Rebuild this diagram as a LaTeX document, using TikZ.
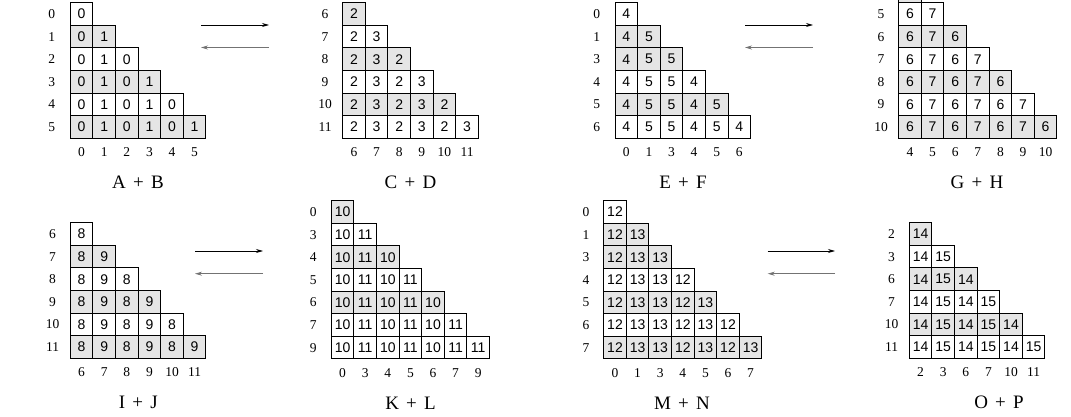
\documentclass[tikz,border=0pt]{standalone}
\usepackage{fontspec}
\setmainfont{Liberation Serif}
\newfontfamily\cellfont{Liberation Sans}
\usetikzlibrary{arrows.meta}
\definecolor{shade}{gray}{0.9}
\definecolor{backarrow}{gray}{0.45}
\def\csz{22.6}
\newcommand\pp[2]{#1\hspace{0.38em}+\hspace{0.38em}#2}
\tikzset{
  cell/.style={draw=black, line width=0.9pt, minimum width=\csz pt, minimum height=\csz pt,
    inner sep=0pt, font=\cellfont\fontsize{14}{14}\selectfont},
  rlab/.style={inner sep=0pt, font=\fontsize{13.5}{13.5}\selectfont},
  clab/.style={inner sep=0pt, font=\fontsize{13.5}{13.5}\selectfont},
  ttl/.style={inner sep=0pt, font=\fontsize{19}{19}\selectfont},
  fwd/.style={line width=0.8pt, draw=black, -{Stealth[length=7pt,width=4pt]}},
  bwd/.style={line width=0.8pt, draw=backarrow, -{Stealth[length=7pt,width=4pt]}}
}
% #1 name, #2 x0, #3 y0, #4 n rows, #5 rows (label/fill), #6 cols (label/value), #7 row-label x, #8 title, #9 title x
\newcommand\tgrid[9]{%
  \foreach \rl/\sh [count=\i from 0] in {#5}{%
    \node[rlab] (#1-rl\i) at (#7pt, {-(#3+(\i+0.5)*\csz)*1pt}) {\rl};
    \foreach \cl/\v [count=\j from 0] in {#6}{%
      \ifnum\j>\i\relax\else
        \node[cell, fill=\sh] (#1-\i-\j) at ({(#2+(\j+0.5)*\csz)*1pt}, {-(#3+(\i+0.5)*\csz)*1pt}) {\v};
      \fi
    }
  }
  \foreach \cl/\v [count=\j from 0] in {#6}{%
    \node[clab] (#1-cl\j) at ({(#2+(\j+0.5)*\csz)*1pt}, {-(#3+#4*\csz+14)*1pt}) {\cl};
  }
  \node[ttl] (#1-t) at (#9pt, {-(#3+#4*\csz+44)*1pt}) {#8};
}
% same grid, but its first row starts with a second cell (the first one sits above, cut off)
\newcommand\tgridb[9]{%
  \foreach \rl/\sh [count=\i from 1] in {#5}{%
    \node[rlab] (#1-rl\i) at (#7pt, {-(#3+(\i-0.5)*\csz)*1pt}) {\rl};
    \foreach \cl/\v [count=\j from 0] in {#6}{%
      \ifnum\j>\i\relax\else
        \node[cell, fill=\sh] (#1-\i-\j) at ({(#2+(\j+0.5)*\csz)*1pt}, {-(#3+(\i-0.5)*\csz)*1pt}) {\v};
      \fi
    }
  }
  \foreach \cl/\v [count=\j from 0] in {#6}{%
    \node[clab] (#1-cl\j) at ({(#2+(\j+0.5)*\csz)*1pt}, {-(#3+#4*\csz+14)*1pt}) {\cl};
  }
  \node[ttl] (#1-t) at (#9pt, {-(#3+#4*\csz+44)*1pt}) {#8};
}
\begin{document}
\begin{tikzpicture}
\useasboundingbox (0,0) rectangle (1071pt,-417pt);
\clip (0,0) rectangle (1071pt,-417pt);

\tgrid{ab}{70.3}{2.7}{6}{0/white,1/shade,2/white,3/shade,4/white,5/shade}{0/0,1/1,2/0,3/1,4/0,5/1}{51.7}{\pp AB}{138}
\tgrid{cd}{342.7}{2.7}{6}{6/shade,7/white,8/shade,9/white,10/shade,11/white}{6/2,7/3,8/2,9/3,10/2,11/3}{325}{\pp CD}{410.5}
\tgrid{ef}{615}{2.7}{6}{0/white,1/shade,3/shade,4/white,5/shade,6/white}{0/4,1/5,3/5,4/4,5/5,6/4}{596.7}{\pp EF}{683}
\node[cell, fill=shade] (gh-top) at ({(898.7+0.5*\csz)*1pt}, {-(2.7-0.5*\csz)*1pt}) {};
\tgridb{gh}{898.7}{2.7}{6}{5/white,6/shade,7/white,8/shade,9/white,10/shade}{4/6,5/7,6/6,7/7,8/6,9/7,10/6}{881}{\pp GH}{977}
\tgrid{ij}{70.3}{222.7}{6}{6/white,7/shade,8/white,9/shade,10/white,11/shade}{6/8,7/9,8/8,9/9,10/8,11/9}{52.5}{\pp IJ}{138.3}
\tgrid{kl}{331.3}{200.7}{7}{0/shade,3/white,4/shade,5/white,6/shade,7/white,9/white}{0/10,3/11,4/10,5/11,6/10,7/11,9/11}{313.3}{\pp KL}{410.5}
\tgrid{mn}{603.7}{200.7}{7}{0/white,1/shade,3/shade,4/white,5/shade,6/white,7/shade}{0/12,1/13,3/13,4/12,5/13,6/12,7/13}{586}{\pp MN}{682}
\tgrid{op}{909.3}{222.7}{6}{2/shade,3/white,6/shade,7/white,10/shade,11/white}{2/14,3/15,6/14,7/15,10/14,11/15}{891.5}{\pp OP}{999}

% arrows
\coordinate (a1l) at (201pt,-25pt);   \coordinate (a1r) at (269pt,-25pt);
\coordinate (b1l) at (201pt,-47.5pt); \coordinate (b1r) at (269pt,-47.5pt);
\coordinate (a2l) at (745pt,-25pt);   \coordinate (a2r) at (813pt,-25pt);
\coordinate (b2l) at (745pt,-47.5pt); \coordinate (b2r) at (813pt,-47.5pt);
\coordinate (a3l) at (195pt,-251pt);  \coordinate (a3r) at (263pt,-251pt);
\coordinate (b3l) at (195pt,-273.7pt);\coordinate (b3r) at (263pt,-273.7pt);
\coordinate (a4l) at (767.7pt,-251pt);  \coordinate (a4r) at (835pt,-251pt);
\coordinate (b4l) at (767.7pt,-273.7pt);\coordinate (b4r) at (835pt,-273.7pt);
\draw[fwd] (a1l) -- (a1r);
\draw[bwd] (b1r) -- (b1l);
\draw[fwd] (a2l) -- (a2r);
\draw[bwd] (b2r) -- (b2l);
\draw[fwd] (a3l) -- (a3r);
\draw[bwd] (b3r) -- (b3l);
\draw[fwd] (a4l) -- (a4r);
\draw[bwd] (b4r) -- (b4l);
\end{tikzpicture}
\end{document}
